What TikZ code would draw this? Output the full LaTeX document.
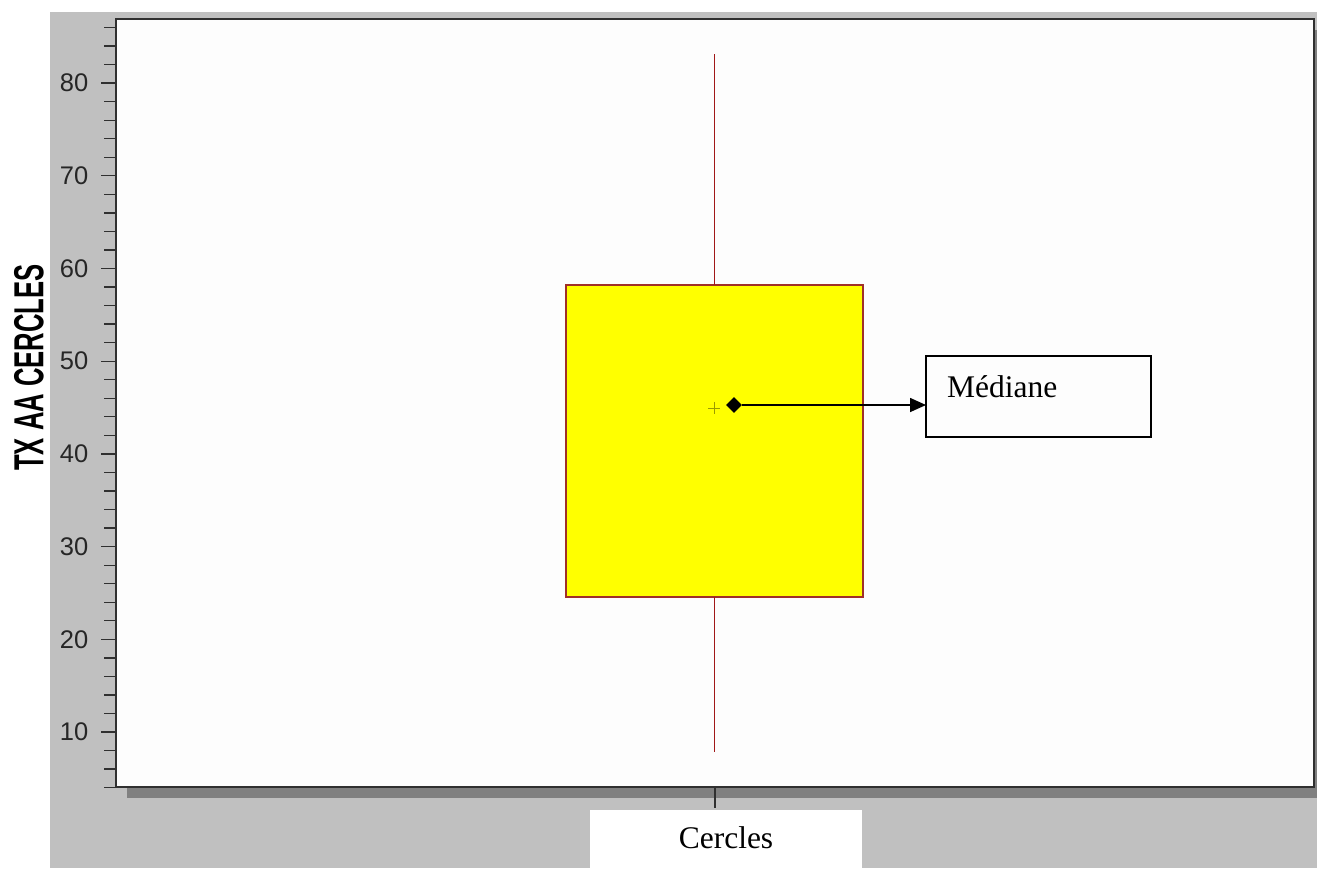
\documentclass[tikz,border=0pt]{standalone}
\usepackage{fontspec}
\setmainfont{Liberation Serif}
\newfontfamily\arialf{Liberation Sans}
\usetikzlibrary{arrows.meta,shapes.geometric}
\definecolor{bggray}{RGB}{192,192,192}
\definecolor{shadowgray}{RGB}{128,128,128}
\definecolor{plotbg}{RGB}{253,253,253}
\definecolor{whisk}{RGB}{160,24,24}
\definecolor{boxedge}{RGB}{160,48,40}
\definecolor{boxfill}{RGB}{255,255,0}
\definecolor{meanol}{RGB}{154,154,0}
\definecolor{axisdark}{RGB}{48,48,48}
\begin{document}
\begin{tikzpicture}[x=1pt,y=-1pt,
  ticklab/.style={anchor=east, inner sep=0pt, text=black!85, font=\arialf\fontsize{25.5}{25.5}\selectfont},
  tickline/.style={axisdark, line width=1.3pt},
  serifbig/.style={font=\fontsize{31.5}{31.5}\selectfont, inner sep=0pt}]
\useasboundingbox (0,0) rectangle (1317,868);
% backgrounds
\fill[bggray] (50,12) rectangle (1317,868);
\fill[shadowgray] (127,30) rectangle (1317,798);
\draw[fill=plotbg, draw=axisdark, line width=1.6pt] (116,19) rectangle (1314,787);
% y ticks
\foreach \v in {4,6,...,86}{
  \draw[tickline] (104,{732-(\v-10)*9.27}) -- (116,{732-(\v-10)*9.27});
}
\foreach \v in {10,20,...,80}{
  \draw[tickline] (101,{732-(\v-10)*9.27}) -- (116,{732-(\v-10)*9.27});
  \node[ticklab] (t\v) at (88.5,{732-(\v-10)*9.27}) {\v};
}
% y label
\node[rotate=90, inner sep=0pt] (ylab) at (29,367.5)
  {\arialf\bfseries\fontsize{42}{42}\selectfont\scalebox{0.61}[1]{TX AA CERCLES}};
% box plot
\node[draw=boxedge, fill=boxfill, line width=1.4pt, minimum width=297pt,
  minimum height=312pt, inner sep=0pt, outer sep=0pt] (box) at (714.5,441) {};
\coordinate (wtop) at (714.5,54);
\coordinate (wbot) at (714.5,752);
\draw[whisk, line width=1.4pt] (wtop) -- (box.north);
\draw[whisk, line width=1.4pt] (box.south) -- (wbot);
% mean marker
\draw[meanol, line width=1pt] (708,408) -- (720,408) (714,402) -- (714,414);
% median marker and label
\node[diamond, fill=black, minimum size=16pt, inner sep=0pt] (med) at (734,405) {};
\node[draw=black, line width=1.6pt, minimum width=225pt, minimum height=81pt,
  inner sep=0pt, outer sep=0pt] (medbox) at (1038.5,396.5) {};
\node[serifbig, anchor=base west] (medtxt) at (947,397) {Médiane};
\draw[black, line width=1.6pt, -{Triangle[length=16pt,width=14pt]}] (med) -- (med -| medbox.west);
% x axis tick and label
\coordinate (xt1) at (715,787);
\coordinate (xt2) at (715,808);
\draw[tickline] (xt1) -- (xt2);
\node[fill=white, minimum width=272pt, minimum height=58pt, inner sep=0pt] (xbox) at (726,839) {};
\node[serifbig, anchor=base] (xtxt) at (726,848) {Cercles};
\end{tikzpicture}
\end{document}
